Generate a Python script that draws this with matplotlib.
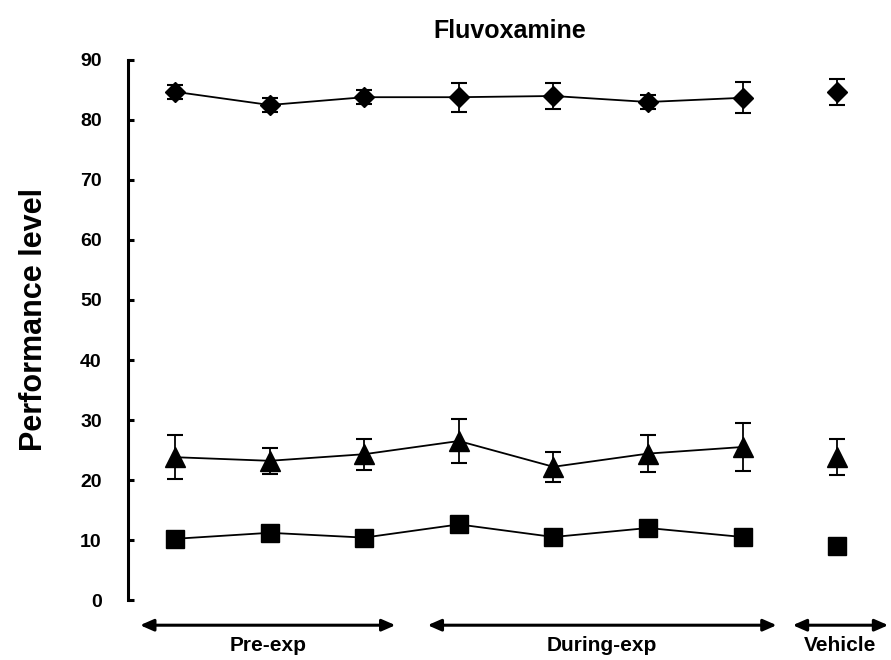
import numpy as np
import matplotlib.pyplot as plt

plt.rcParams['font.family'] = ['Liberation Sans', 'DejaVu Sans']
plt.rcParams['font.weight'] = 'bold'

sessions = [1, 2, 3, 4, 5, 6, 7, 8]

# mean performance and SEM per session (last one = vehicle)
diamond_mean = [84.7, 82.5, 83.8, 83.8, 84.0, 83.0, 83.7, 84.7]
diamond_err = [1.2, 1.2, 1.2, 2.4, 2.2, 1.2, 2.6, 2.2]
triangle_mean = [23.8, 23.2, 24.3, 26.5, 22.2, 24.4, 25.5, 23.9]
triangle_err = [3.7, 2.2, 2.6, 3.7, 2.5, 3.1, 4.0, 3.0]
square_mean = [10.2, 11.2, 10.4, 12.6, 10.5, 12.0, 10.5, 9.0]
square_err = [0.8, 0.8, 0.8, 0.8, 0.8, 0.8, 0.8, 0.8]

phase_labels = ['Pre-exp', 'During-exp', 'Vehicle']
phase_spans = [(0.63, 3.33), (3.67, 7.36), (7.53, 8.54)]

fig = plt.figure(figsize=(8.91, 6.6), dpi=100)
ax = fig.add_axes([0.1437, 0.0909, 0.8563, 0.8182])

series = [
    (diamond_mean, diamond_err, 'D', 10.5),
    (triangle_mean, triangle_err, '^', 14),
    (square_mean, square_err, 's', 12.5),
]
for mean, err, mk, ms in series:
    # sessions 1-7 are joined, vehicle stands alone
    ax.errorbar(sessions[:7], mean[:7], yerr=err[:7], fmt='-', marker=mk,
                color='black', markersize=ms, lw=1.3, elinewidth=1.3,
                capsize=6, capthick=1.5)
    ax.errorbar(sessions[7:], mean[7:], yerr=err[7:], fmt='none',
                ecolor='black', elinewidth=1.3, capsize=6, capthick=1.5)
    ax.plot(sessions[7:], mean[7:], marker=mk, color='black', markersize=ms,
            ls='none')

ax.set_xlim(0.503, 8.569)
ax.set_ylim(0, 90)
ax.set_yticks(np.arange(0, 91, 10))
ax.set_xticks([])
for side in ['top', 'right', 'bottom']:
    ax.spines[side].set_visible(False)
ax.spines['left'].set_linewidth(2.2)
ax.tick_params(axis='y', direction='in', length=4, width=2.2, labelsize=14,
               pad=19)
for lab in ax.get_yticklabels():
    lab.set_fontweight('bold')

ax.set_ylabel('Performance level', fontsize=22, fontweight='bold')
ax.yaxis.set_label_coords(-0.103, 0.52)
ax.set_title('Fluvoxamine', fontsize=18, fontweight='bold', pad=16)

# phase arrows below the axis
for (x0, x1), name in zip(phase_spans, phase_labels):
    ax.annotate('', xy=(x0, -4.2), xytext=(x1, -4.2),
                xycoords='data', annotation_clip=False,
                arrowprops=dict(arrowstyle='<|-|>,head_length=0.8,head_width=0.35',
                                color='black', lw=2.2, shrinkA=0, shrinkB=0))
    ax.text((x0 + x1) / 2, -7.6, name, ha='center', va='center',
            fontsize=15, fontweight='bold', clip_on=False)

fig.savefig('out.png', dpi=100)
